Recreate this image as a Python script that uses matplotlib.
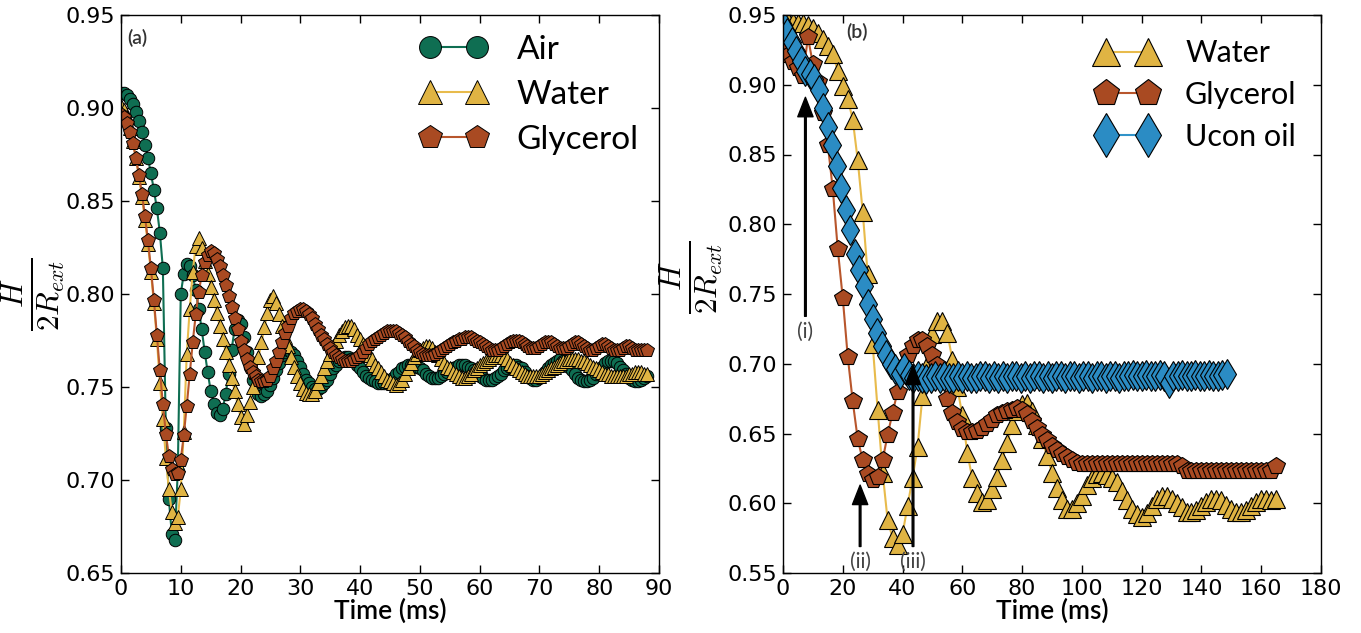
import numpy as np
import matplotlib
matplotlib.use('Agg')
import matplotlib.pyplot as plt

plt.rcParams['mathtext.fontset'] = 'cm'

# ---- panel (a): H / 2R_ext vs time, sampled every 0.5 ms ----
dt_a = 0.5

air_a = [
    .908, .908, .907, .905, .902, .898, .893, .887, .880, .873,
    .865, .856, .846, .833, .814, .728, .690, .671, .668, .705,
    .800, .811, .816, .815, .810, .802, .792, .781, .769, .758,
    .748, .741, .736, .735, .738, .746, .757, .770, .781, .786,
    .784, .777, .769, .761, .754, .749, .746, .745, .746, .748,
    .751, .755, .759, .763, .767, .769, .770, .769, .767, .764,
    .761, .757, .754, .752, .750, .749, .749, .750, .752, .754,
    .757, .760, .762, .764, .765, .766, .766, .765, .764, .762,
    .760, .758, .756, .755, .754, .753, .752, .752, .752, .753,
    .754, .755, .757, .758, .760, .761, .762, .762, .762, .761,
    .760, .759, .757, .756, .755, .755, .755, .756, .757, .758,
    .759, .760, .761, .762, .762, .762, .761, .760, .759, .757,
    .756, .755, .754, .754, .754, .755, .756, .757, .759, .760,
    .761, .762, .762, .761, .760, .758, .756, .755, .754, .754,
    .755, .756, .758, .760, .762, .763, .764, .765, .764, .763,
    .761, .759, .757, .755, .754, .753, .753, .754, .755, .757,
    .759, .761, .763, .764, .764, .764, .763, .761, .759, .757,
    .755, .754, .753, .753, .754, .755, .756,
]

water_a = [
    .901, .899, .895, .889, .882, .873, .863, .852, .840, .827,
    .812, .795, .776, .752, .733, .712, .695, .683, .677, .680,
    .695, .726, .768, .792, .812, .826, .830, .825, .818, .811,
    .804, .797, .790, .783, .776, .769, .762, .755, .748, .741,
    .734, .730, .735, .742, .750, .758, .766, .774, .782, .790,
    .797, .799, .795, .789, .783, .777, .772, .766, .761, .756,
    .752, .749, .747, .746, .746, .748, .752, .756, .760, .764,
    .768, .772, .775, .778, .780, .782, .783, .783, .781, .778,
    .776, .773, .770, .767, .765, .762, .760, .758, .756, .754,
    .753, .752, .751, .752, .754, .757, .760, .763, .766, .768,
    .770, .771, .772, .772, .771, .769, .767, .765, .763, .761,
    .760, .758, .757, .756, .755, .755, .756, .757, .759, .760,
    .762, .763, .764, .765, .766, .767, .767, .767, .766, .765,
    .763, .762, .760, .759, .758, .757, .756, .756, .756, .756,
    .756, .757, .758, .759, .760, .761, .762, .763, .764, .764,
    .765, .765, .765, .765, .764, .764, .763, .762, .761, .760,
    .759, .758, .757, .757, .756, .756, .756, .756, .756, .756,
    .757, .757, .758, .758, .758, .757, .757,
]

glycerol_a = [
    .897, .895, .892, .887, .881, .873, .864, .854, .842, .829,
    .814, .797, .778, .759, .741, .725, .713, .706, .703, .704,
    .711, .724, .740, .757, .774, .789, .801, .810, .817, .821,
    .823, .822, .819, .815, .810, .805, .799, .793, .787, .781,
    .775, .770, .765, .761, .758, .756, .754, .753, .753, .754,
    .756, .760, .764, .769, .774, .779, .783, .787, .790, .791,
    .792, .792, .791, .789, .787, .784, .781, .778, .776, .773,
    .771, .769, .767, .766, .765, .764, .764, .764, .765, .766,
    .767, .769, .771, .773, .775, .776, .777, .778, .779, .780,
    .780, .780, .780, .779, .778, .777, .775, .773, .772, .770,
    .769, .768, .767, .767, .767, .768, .769, .770, .771, .772,
    .773, .774, .775, .776, .776, .777, .777, .777, .776, .775,
    .774, .773, .772, .771, .770, .770, .770, .771, .772, .773,
    .774, .775, .775, .775, .774, .773, .772, .771, .771, .771,
    .772, .773, .774, .774, .774, .773, .772, .771, .771, .771,
    .772, .773, .774, .774, .773, .772, .771, .770, .770, .771,
    .772, .773, .773, .772, .771, .770, .770, .770, .771, .772,
    .772, .771, .770, .770, .770, .770, .770,
]

# ---- panel (b) ----
dt_water_b = 5.0 / 3.0
dt_ucon_b = 1.5

water_b = [
    .947, .946, .945, .944, .944, .943, .941, .937, .933, .928,
    .922, .910, .899, .890, .875, .846, .809, .764, .714, .667,
    .622, .588, .575, .570, .578, .598, .618, .640, .677, .699,
    .721, .731, .731, .722, .703, .683, .663, .636, .618, .607,
    .601, .602, .610, .619, .631, .643, .656, .666, .671, .672,
    .666, .656, .646, .634, .622, .611, .602, .596, .596, .600,
    .605, .613, .618, .621, .622, .620, .618, .615, .609, .602,
    .596, .592, .590, .593, .598, .603, .605, .605, .603, .600,
    .597, .594, .594, .595, .598, .601, .603, .603, .602, .599,
    .596, .594, .594, .595, .598, .601, .603, .603, .602, .603,
]

glycerol_b = [
    .925, .921, .916, .912, .906, .934, .915, .902, .880, .857,
    .825, .782, .747, .705, .673, .646, .631, .621, .617, .619,
    .631, .649, .665, .680, .693, .706, .713, .717, .717, .713,
    .706, .699, .688, .675, .665, .658, .653, .651, .651, .652,
    .654, .657, .660, .663, .665, .666, .667, .668, .667, .664,
    .659, .654, .649, .645, .641, .638, .635, .633, .631, .629,
    .628, .628, .628, .628, .628, .628, .628, .628, .628, .628,
    .628, .628, .628, .628, .628, .628, .628, .628, .628, .628,
    .627, .623, .623, .623, .623, .623, .623, .623, .623, .623,
    .623, .623, .623, .623, .623, .623, .623, .623, .623, .627,
]

ucon_b = [
    .943, .937, .931, .924, .917, .910, .908, .904, .896, .883,
    .870, .857, .842, .826, .810, .796, .779, .767, .756, .743,
    .732, .722, .713, .706, .700, .696, .693, .697, .692, .690,
    .691, .690, .689, .690, .691, .690, .691, .690, .690, .691,
    .690, .691, .690, .690, .691, .691, .690, .691, .690, .691,
    .690, .691, .691, .690, .691, .690, .691, .691, .690, .691,
    .690, .691, .691, .690, .691, .691, .690, .691, .691, .690,
    .691, .691, .690, .691, .691, .690, .691, .691, .692, .691,
    .691, .692, .691, .691, .692, .691, .686, .691, .691, .692,
    .691, .691, .692, .691, .691, .692, .691, .691, .692, .693,
]

# arrows in panel (b): (label, time, tail value, head value)
arrows_b = [('(i)', 7.5, 0.734, 0.891),
            ('(ii)', 25.8, 0.569, 0.613),
            ('(iii)', 43.5, 0.569, 0.699)]

c_air = '#0f6e52'
c_water = '#e0b443'
c_gly = '#a94a22'
c_ucon = '#2b8cc4'

label_font = 'Lato'
ylab = r'$\frac{H}{2R_{ext}}$'


def style_axes(ax):
    ax.tick_params(direction='in', top=True, right=True, length=6, width=1,
                   labelsize=16, pad=4)
    for s in ax.spines.values():
        s.set_linewidth(1)
    ax.set_xlabel('Time (ms)', fontsize=19, family=label_font,
                  fontweight='semibold', labelpad=0)


fig = plt.figure(figsize=(13.61, 6.33), dpi=100)
ax1 = fig.add_axes([121 / 1361, 60 / 633, 538 / 1361, 558 / 633])
ax2 = fig.add_axes([783 / 1361, 60 / 633, 538 / 1361, 558 / 633])

# panel (a)
t_air = np.arange(len(air_a)) * dt_a
t_water = np.arange(len(water_a)) * dt_a
t_gly = np.arange(len(glycerol_a)) * dt_a
ax1.plot(t_air, air_a, '-o', color=c_air, mfc=c_air, mec='black', mew=0.7,
         ms=9, lw=1.5, label='Air')
ax1.plot(t_water, water_a, '-^', color='#e8bb4c', mfc=c_water, mec='black', mew=0.7,
         ms=10, lw=1.5, label='Water')
ax1.plot(t_gly, glycerol_a, '-p', color='#b8562c', mfc=c_gly, mec='black', mew=0.7,
         ms=10, lw=1.5, label='Glycerol')
ax1.set_xlim(0, 90)
ax1.set_ylim(0.65, 0.95)
ax1.set_xticks(np.arange(0, 91, 10))
ax1.set_yticks(np.arange(0.65, 0.951, 0.05))
ax1.yaxis.set_major_formatter(matplotlib.ticker.FormatStrFormatter('%.2f'))
style_axes(ax1)
ax1.set_ylabel(ylab, fontsize=32, rotation=90)
ax1.yaxis.set_label_coords(-0.10, 0.5)
ax1.text(0.012, 0.975, '(a)', transform=ax1.transAxes, fontsize=14,
         family=label_font, fontweight='semibold', color='#333333', va='top')
ax1.legend(loc='upper right', frameon=False, markerscale=1.75,
           numpoints=2, handlelength=2.0, handletextpad=0.9, labelspacing=0.45,
           borderaxespad=0.2, prop={'family': label_font, 'size': 24})

# panel (b)
t_wb = np.arange(len(water_b)) * dt_water_b
t_gb = np.arange(len(glycerol_b)) * dt_water_b
t_ub = np.arange(len(ucon_b)) * dt_ucon_b
ax2.plot(t_wb, water_b, '-^', color='#e8bb4c', mfc=c_water, mec='black', mew=0.8,
         ms=13, lw=1.5, label='Water')
ax2.plot(t_gb, glycerol_b, '-p', color='#b8562c', mfc=c_gly, mec='black', mew=0.8,
         ms=13, lw=1.5, label='Glycerol')
ax2.plot(t_ub, ucon_b, '-d', color='#3193c9', mfc=c_ucon, mec='black', mew=0.8,
         ms=15, lw=1.5, label='Ucon oil')
ax2.set_xlim(0, 180)
ax2.set_ylim(0.55, 0.95)
ax2.set_xticks(np.arange(0, 181, 20))
ax2.set_yticks(np.arange(0.55, 0.951, 0.05))
ax2.yaxis.set_major_formatter(matplotlib.ticker.FormatStrFormatter('%.2f'))
style_axes(ax2)
ax2.set_ylabel(ylab, fontsize=32, rotation=90)
ax2.yaxis.set_label_coords(-0.108, 0.53)
ax2.text(0.118, 0.985, '(b)', transform=ax2.transAxes, fontsize=14,
         family=label_font, fontweight='semibold', color='#333333', va='top')
ax2.legend(loc='upper right', frameon=False, markerscale=1.5,
           numpoints=2, handlelength=2.0, handletextpad=0.9, labelspacing=0.45,
           borderaxespad=0.4, prop={'family': label_font, 'size': 22})

for name, tx, y0, y1 in arrows_b:
    ax2.annotate('', xy=(tx, y1), xytext=(tx, y0),
                 arrowprops=dict(facecolor='black', edgecolor='black', width=1.2,
                                 headwidth=11, headlength=14, shrink=0))
    ax2.text(tx, y0 - 0.004, name, ha='center', va='top', fontsize=15,
             family=label_font, color='#444444')

fig.savefig('out.png', dpi=100)
